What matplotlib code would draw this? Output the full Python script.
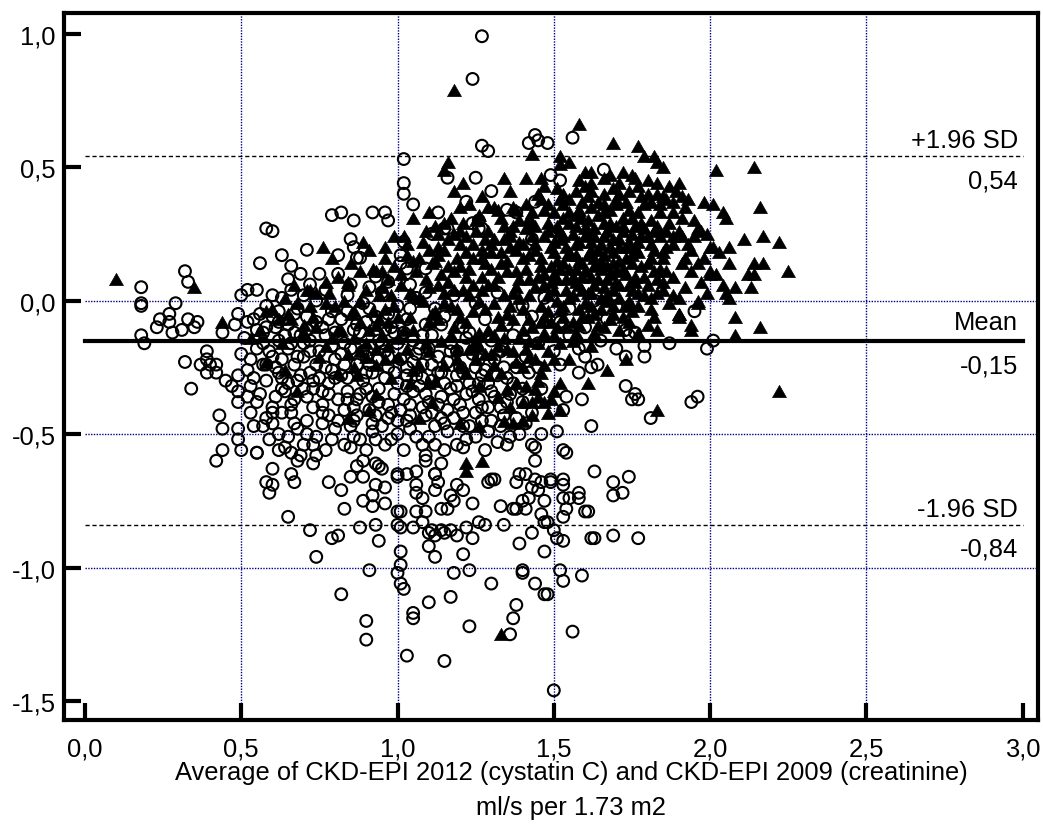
import matplotlib
matplotlib.use("Agg")
import matplotlib.pyplot as plt

plt.rcParams['font.family'] = ['Liberation Sans', 'DejaVu Sans']

# ---------------- data (average, difference) ----------------
circles_upper = [
    (1.27, 0.99), (1.24, 0.83), (1.27, 0.58), (1.29, 0.56), (1.42, 0.59), (1.44, 0.62), (1.45, 0.60),
    (1.48, 0.59), (1.56, 0.61), (1.02, 0.53), (1.02, 0.44), (1.02, 0.40), (1.05, 0.36), (1.16, 0.46),
    (1.25, 0.46), (1.30, 0.41), (1.13, 0.33), (1.22, 0.37), (1.15, 0.27), (1.16, 0.27), (1.11, 0.25),
    (1.26, 0.27), (1.24, 0.29), (1.66, 0.49), (1.49, 0.47), (1.52, 0.45), (1.44, 0.37), (1.35, 0.34),
    (1.38, 0.33), (1.43, 0.23), (1.49, 0.24), (0.79, 0.32), (0.82, 0.33), (0.86, 0.30), (0.92, 0.33),
    (0.96, 0.33), (0.97, 0.30), (0.58, 0.27), (0.60, 0.26), (0.85, 0.23), (0.86, 0.20), (0.87, 0.16),
    (0.71, 0.19), (0.63, 0.17), (0.66, 0.13), (0.56, 0.14), (0.81, 0.17), (1.01, 0.17), (1.01, 0.14),
    (0.32, 0.11), (0.33, 0.07), (0.65, 0.08), (0.72, 0.06), (0.81, 0.10), (0.52, 0.04), (0.55, 0.04),
    (0.50, 0.02), (1.26, 0.30), (1.27, 0.27), (1.02, 0.22), (1.03, 0.12), (1.09, 0.12), (0.88, 0.16),
]
circles_left = [
    (0.18, 0.05), (0.18, -0.01), (0.18, -0.02), (0.29, -0.01), (0.27, -0.05), (0.24, -0.07), (0.23, -0.10),
    (0.27, -0.08), (0.28, -0.12), (0.31, -0.11), (0.33, -0.07), (0.36, -0.08), (0.35, -0.10), (0.18, -0.13),
    (0.19, -0.16), (0.32, -0.23), (0.34, -0.33), (0.39, -0.19), (0.39, -0.22), (0.37, -0.24), (0.40, -0.24),
    (0.42, -0.24), (0.42, -0.27), (0.39, -0.27), (0.45, -0.30), (0.47, -0.32), (0.49, -0.28), (0.49, -0.34),
    (0.49, -0.38), (0.43, -0.43), (0.44, -0.48), (0.49, -0.48), (0.49, -0.52), (0.50, -0.56), (0.44, -0.56),
    (0.42, -0.60), (0.54, -0.47), (0.55, -0.57), (0.60, -0.42), (0.63, -0.42), (0.49, -0.05), (0.48, -0.09),
    (0.44, -0.12), (0.54, -0.07), (0.58, -0.10), (0.55, -0.11),
]
circles_core = [
    (0.58, -0.02), (0.63, 0.01), (0.68, -0.03), (0.74, 0.00), (0.79, -0.04), (0.84, 0.02), (0.89, -0.01),
    (0.95, 0.03), (1.00, -0.02), (1.06, 0.01), (1.12, -0.03), (1.18, 0.02), (1.25, -0.01), (1.32, 0.03),
    (1.40, -0.02), (1.47, 0.01), (1.55, -0.03), (1.63, 0.00), (1.70, -0.02),
    (0.52, -0.08), (0.60, -0.06), (0.65, -0.09), (0.71, -0.06), (0.76, -0.10), (0.82, -0.07), (0.87, -0.09),
    (0.93, -0.06), (0.98, -0.10), (1.03, -0.07), (1.09, -0.09), (1.15, -0.06), (1.21, -0.10), (1.28, -0.07),
    (1.35, -0.09), (1.43, -0.06), (1.52, -0.08), (1.60, -0.10), (1.67, -0.07),
    (0.51, -0.14), (0.57, -0.12), (0.62, -0.15), (0.67, -0.12), (0.72, -0.15), (0.77, -0.13), (0.83, -0.16),
    (0.88, -0.12), (0.94, -0.15), (0.99, -0.12), (1.05, -0.15), (1.11, -0.13), (1.17, -0.16), (1.23, -0.12),
    (1.30, -0.15), (1.37, -0.13), (1.45, -0.16), (1.55, -0.13), (1.65, -0.15), (1.74, -0.13),
    (0.50, -0.20), (0.55, -0.18), (0.60, -0.21), (0.65, -0.18), (0.70, -0.21), (0.75, -0.19), (0.80, -0.22),
    (0.85, -0.18), (0.90, -0.21), (0.96, -0.19), (1.01, -0.22), (1.07, -0.18), (1.13, -0.21), (1.19, -0.19),
    (1.26, -0.22), (1.33, -0.19), (1.41, -0.21), (1.50, -0.19), (1.60, -0.21), (1.70, -0.18),
    (0.52, -0.26), (0.57, -0.24), (0.62, -0.27), (0.67, -0.24), (0.72, -0.27), (0.77, -0.25), (0.82, -0.28),
    (0.87, -0.24), (0.92, -0.27), (0.97, -0.25), (1.03, -0.28), (1.08, -0.24), (1.14, -0.27), (1.20, -0.25),
    (1.27, -0.28), (1.34, -0.25), (1.42, -0.27), (1.52, -0.24),
    (0.53, -0.32), (0.58, -0.30), (0.63, -0.33), (0.68, -0.30), (0.73, -0.33), (0.78, -0.31), (0.84, -0.34),
    (0.89, -0.30), (0.94, -0.33), (1.00, -0.31), (1.05, -0.34), (1.11, -0.30), (1.17, -0.33), (1.23, -0.31),
    (1.30, -0.34), (1.37, -0.31), (1.46, -0.33),
    (0.55, -0.38), (0.61, -0.36), (0.66, -0.39), (0.71, -0.36), (0.76, -0.39), (0.81, -0.37), (0.86, -0.40),
    (0.92, -0.36), (0.97, -0.39), (1.02, -0.37), (1.08, -0.40), (1.14, -0.36), (1.20, -0.39), (1.26, -0.37),
    (1.33, -0.40), (1.40, -0.38),
    (0.58, -0.44), (0.66, -0.42), (0.71, -0.45), (0.76, -0.42), (0.81, -0.45), (0.87, -0.43), (0.92, -0.46),
    (0.98, -0.42), (1.03, -0.45), (1.09, -0.43), (1.15, -0.46), (1.21, -0.42), (1.27, -0.45), (1.34, -0.43),
    (1.41, -0.46),
    (0.62, -0.50), (0.68, -0.48), (0.74, -0.51), (0.80, -0.48), (0.86, -0.51), (0.92, -0.49), (0.98, -0.52),
    (1.04, -0.48), (1.10, -0.51), (1.16, -0.49), (1.22, -0.52), (1.29, -0.49), (1.36, -0.51),
    (0.64, -0.55), (0.70, -0.54), (0.77, -0.56), (0.83, -0.54), (0.90, -0.56), (0.96, -0.54), (1.02, -0.56),
    (1.08, -0.54), (1.15, -0.56), (1.21, -0.55), (1.28, -0.56), (1.35, -0.54), (1.44, -0.55),
    (0.61, -0.10), (0.66, -0.16), (0.71, -0.11), (0.74, -0.24), (0.79, -0.17), (0.84, -0.29), (0.86, -0.11),
    (0.91, -0.24), (0.95, -0.16), (0.99, -0.35), (1.02, -0.12), (1.06, -0.28), (1.10, -0.18), (1.13, -0.39),
    (1.16, -0.23), (1.19, -0.32), (1.22, -0.14), (1.25, -0.42), (1.28, -0.26), (1.31, -0.36), (0.64, -0.34),
    (0.69, -0.28), (0.73, -0.40), (0.78, -0.35), (0.83, -0.41), (0.88, -0.35), (0.93, -0.43), (0.96, -0.29),
    (1.01, -0.41), (1.05, -0.23), (1.09, -0.35), (1.12, -0.47), (1.18, -0.44), (1.24, -0.20), (1.29, -0.40),
    (1.35, -0.29), (1.38, -0.44), (0.58, -0.24), (0.63, -0.29), (0.68, -0.21), (0.56, -0.35), (0.60, -0.40),
    (0.53, -0.22), (0.57, -0.16), (0.61, -0.25), (0.64, -0.13), (0.67, -0.37), (0.70, -0.33), (0.75, -0.29),
    (0.76, -0.46), (0.79, -0.26), (0.82, -0.20), (0.85, -0.47), (0.87, -0.37), (0.90, -0.27), (0.91, -0.41),
    (0.95, -0.47), (0.97, -0.21), (1.00, -0.45), (1.03, -0.25), (1.04, -0.39), (1.07, -0.32), (1.11, -0.42),
    (1.13, -0.27), (1.16, -0.41), (1.19, -0.28), (1.22, -0.35), (1.23, -0.47), (1.26, -0.31), (1.30, -0.45),
    (1.32, -0.28), (1.36, -0.35), (1.39, -0.50), (0.70, -0.16), (0.74, -0.08), (0.80, -0.12), (0.90, -0.08),
    (0.96, -0.11), (1.08, -0.13), (1.14, -0.09), (0.62, -0.04), (0.56, -0.05), (0.67, -0.46), (0.71, -0.50),
    (0.88, -0.52), (1.06, -0.51), (1.19, -0.54),
    (0.54, -0.29), (0.59, -0.19), (0.63, -0.22), (0.65, -0.31), (0.69, -0.13), (0.72, -0.19), (0.73, -0.30),
    (0.76, -0.34), (0.78, -0.43), (0.80, -0.29), (0.83, -0.24), (0.84, -0.37), (0.86, -0.45), (0.89, -0.19),
    (0.90, -0.33), (0.94, -0.22), (0.94, -0.38), (0.97, -0.44), (0.99, -0.27), (1.00, -0.16), (1.03, -0.32),
    (1.04, -0.43), (1.06, -0.20), (1.08, -0.29), (1.10, -0.38), (1.11, -0.24), (1.14, -0.44), (1.15, -0.31),
    (1.17, -0.19), (1.18, -0.37), (1.21, -0.27), (1.21, -0.47), (1.24, -0.34), (1.25, -0.25), (1.27, -0.40),
    (1.29, -0.31), (1.31, -0.22), (1.33, -0.47), (1.35, -0.38), (1.38, -0.25), (1.40, -0.33), (1.43, -0.42),
    (1.45, -0.25), (0.59, -0.52), (0.65, -0.51), (0.73, -0.54), (0.79, -0.52), (0.85, -0.55), (0.93, -0.52),
    (1.00, -0.50), (1.12, -0.54), (1.25, -0.51), (1.32, -0.53), (0.53, -0.42), (0.57, -0.47), (0.52, -0.36),
    (0.60, -0.46), (0.60, 0.02), (0.66, 0.04), (0.70, 0.02), (0.77, 0.04), (0.85, 0.06), (0.91, 0.05),
    (0.97, 0.07), (1.04, 0.06), (1.09, 0.03), (0.75, 0.10), (0.69, 0.10), (0.93, 0.09), (0.62, -0.08),
    (0.67, -0.05), (0.78, -0.07), (0.84, -0.04), (0.91, -0.03), (0.97, -0.05), (1.04, -0.03),
]
circles_lower = [
    (0.55, -0.57), (0.62, -0.56), (0.66, -0.57), (0.69, -0.58), (0.74, -0.58), (0.73, -0.61), (0.60, -0.63),
    (0.58, -0.68), (0.60, -0.69), (0.59, -0.72), (0.66, -0.65), (0.67, -0.68), (0.68, -0.60), (0.78, -0.68),
    (0.82, -0.71), (0.85, -0.66), (0.87, -0.62), (0.89, -0.66), (0.89, -0.60), (0.93, -0.61), (0.94, -0.62),
    (0.95, -0.63), (0.93, -0.69), (0.96, -0.70), (0.92, -0.73), (0.89, -0.75), (0.92, -0.77), (0.96, -0.76),
    (0.83, -0.78), (0.65, -0.81), (0.72, -0.86), (0.79, -0.89), (0.81, -0.88), (0.88, -0.85), (0.93, -0.84),
    (0.94, -0.90), (0.74, -0.96), (0.91, -1.01), (0.82, -1.10), (0.90, -1.20), (0.90, -1.27), (1.03, -1.33),
    (1.15, -1.35), (1.50, -1.46), (1.00, -0.66), (1.00, -0.65), (1.03, -0.65), (1.06, -0.64), (1.09, -0.58),
    (1.09, -0.60), (1.14, -0.61), (1.12, -0.65), (1.13, -0.68), (1.12, -0.71), (1.06, -0.72), (1.08, -0.74),
    (1.01, -0.79), (1.06, -0.79), (1.09, -0.79), (1.01, -0.85), (1.05, -0.85), (1.08, -0.83), (1.01, -0.94),
    (1.01, -0.99), (1.00, -1.02), (1.01, -1.06), (1.02, -1.08), (1.05, -1.17), (1.05, -1.19), (1.10, -1.13),
    (1.17, -1.11), (1.10, -0.87), (1.10, -0.92), (1.12, -0.88), (1.15, -0.87), (1.19, -0.88), (1.11, -0.86),
    (1.14, -0.86), (1.17, -0.86), (1.12, -0.96), (1.21, -0.95), (1.18, -1.02), (1.23, -1.01), (1.22, -0.85),
    (1.24, -0.89), (1.26, -0.83), (1.28, -0.84), (1.34, -0.84), (1.30, -1.06), (1.23, -1.22), (1.38, -1.14),
    (1.37, -1.19), (1.36, -1.25), (1.17, -0.73), (1.16, -0.78), (1.18, -0.75), (1.14, -0.78), (1.24, -0.76),
    (1.21, -0.71), (1.19, -0.69), (1.12, -0.65), (1.06, -0.69), (1.29, -0.68), (1.31, -0.67), (1.33, -0.77),
    (1.38, -0.68), (1.37, -0.78), (1.38, -0.78), (1.41, -0.78), (1.40, -0.75), (1.42, -0.74), (1.41, -0.65),
    (1.44, -0.67), (1.46, -0.68), (1.43, -0.70), (1.45, -0.71), (1.47, -0.75), (1.44, -0.60), (1.54, -0.57),
    (1.49, -0.68), (1.53, -0.67), (1.53, -0.69), (1.53, -0.74), (1.55, -0.74), (1.58, -0.72), (1.58, -0.74),
    (1.46, -0.80), (1.47, -0.83), (1.48, -0.83), (1.54, -0.78), (1.53, -0.81), (1.50, -0.86), (1.51, -0.89),
    (1.53, -0.90), (1.47, -0.94), (1.43, -0.87), (1.39, -0.91), (1.40, -1.01), (1.40, -1.02), (1.44, -1.06),
    (1.47, -1.10), (1.48, -1.10), (1.52, -1.01), (1.53, -1.05), (1.59, -1.03), (1.56, -1.24), (1.63, -0.64),
    (1.60, -0.79), (1.61, -0.79), (1.62, -0.89), (1.63, -0.89), (1.69, -0.68), (1.69, -0.73), (1.72, -0.72),
    (1.74, -0.66), (1.69, -0.88), (1.77, -0.89), (1.00, -0.84), (1.00, -0.79),
]
circles_right = [
    (2.01, -0.15), (1.99, -0.18), (1.87, -0.16), (1.79, -0.17), (1.79, -0.21), (1.73, -0.21), (1.73, -0.32),
    (1.75, -0.37), (1.77, -0.37), (1.76, -0.35), (1.81, -0.44), (1.94, -0.38), (1.96, -0.36), (1.95, -0.04),
    (1.64, -0.24), (1.58, -0.27), (1.62, -0.25), (1.54, -0.36), (1.59, -0.37), (1.62, -0.47), (1.53, -0.41),
    (1.53, -0.56), (1.43, -0.54), (1.73, -0.11), (1.76, -0.12), (1.60, -0.17), (1.58, -0.18), (1.51, -0.49),
    (1.46, -0.50), (1.30, -0.67), (1.39, -0.65), (1.49, -0.67),
]

triangles_sparse = [
    (0.10, 0.08), (0.35, 0.05), (0.44, -0.08), (0.53, -0.14), (0.60, -0.03), (0.62, -0.07), (0.66, -0.07),
    (0.67, 0.06), (0.72, 0.04), (0.77, 0.07), (0.79, 0.16), (0.76, 0.20), (0.89, 0.22), (0.96, 0.20),
    (1.02, 0.24), (0.88, 0.11), (0.92, 0.12), (0.95, 0.11), (0.97, 0.08), (0.84, 0.07), (0.58, -0.23),
    (0.64, -0.26), (0.68, -0.34), (0.74, -0.10), (0.81, -0.27), (0.84, -0.44), (0.87, -0.28), (0.91, -0.41),
    (0.93, -0.35), (0.98, -0.29), (0.93, -0.24), (0.81, -0.11), (0.86, -0.04), (0.92, -0.04), (0.88, -0.08),
    (0.94, -0.07), (0.97, -0.08), (0.91, -0.11), (0.95, -0.13), (0.93, -0.18), (0.97, -0.17), (0.90, -0.21),
    (1.18, 0.79), (1.58, 0.66), (1.69, 0.59), (1.77, 0.58), (1.43, 0.55), (1.16, 0.52), (1.15, 0.49),
    (1.52, 0.54), (1.55, 0.52), (1.52, 0.51), (1.79, 0.54), (1.82, 0.54), (1.83, 0.52), (1.85, 0.50),
    (2.02, 0.49), (2.14, 0.50), (1.60, 0.48), (1.62, 0.48), (1.72, 0.48), (1.75, 0.47), (1.41, 0.46),
    (1.46, 0.46), (1.07, 0.16), (1.10, 0.19), (1.13, 0.17), (1.11, 0.14), (1.20, 0.35), (1.26, 0.32),
    (1.20, 0.26), (1.22, 0.24), (1.32, 0.34), (1.37, 0.35), (1.38, 0.34), (1.31, 0.23), (1.36, 0.24),
    (1.41, 0.27), (1.43, 0.29), (1.05, 0.02),
]
triangles_right = [
    (1.97, 0.26), (1.98, 0.37), (2.01, 0.36), (2.16, 0.35), (2.04, 0.33), (2.05, 0.31), (2.11, 0.23),
    (2.17, 0.24), (2.22, 0.22), (2.06, 0.20), (2.01, 0.20), (2.06, 0.14), (2.14, 0.14), (2.17, 0.14),
    (2.25, 0.11), (2.12, 0.10), (2.14, 0.10), (2.08, 0.05), (2.13, 0.05), (2.04, 0.06), (2.00, 0.10),
    (2.02, 0.10), (2.06, 0.01), (2.08, -0.06), (2.16, -0.10), (2.08, -0.13), (2.22, -0.34), (1.90, 0.44),
    (1.84, 0.36), (1.85, 0.39), (1.88, 0.37), (1.91, 0.39), (1.93, 0.38), (1.96, 0.27), (2.00, 0.20),
    (1.91, 0.24), (1.95, 0.24), (1.88, 0.24), (1.96, 0.14), (2.00, 0.11), (2.05, 0.03), (1.90, 0.01),
    (1.96, -0.01), (1.90, -0.05), (1.83, -0.11), (1.90, -0.06), (1.94, -0.09), (1.94, -0.11), (1.73, -0.22),
    (1.67, -0.26), (1.61, -0.31), (1.83, -0.41),
]
triangles_lower = [
    (1.22, -0.61), (1.22, -0.64), (1.27, -0.60), (1.33, -1.25), (1.07, -0.44), (1.11, -0.38), (1.04, -0.31),
    (1.10, -0.31), (1.43, -0.38), (1.45, -0.36), (1.47, -0.38), (1.49, -0.37), (1.38, -0.31), (1.41, -0.32),
    (1.29, -0.28), (1.26, -0.32), (1.31, -0.24), (1.20, -0.24), (1.22, -0.27), (1.25, -0.22), (1.24, -0.17),
    (1.37, -0.46), (1.40, -0.45), (1.26, -0.47), (1.20, -0.46), (1.52, -0.41), (1.52, -0.31),
    (1.32, -0.36), (1.36, -0.40), (1.43, -0.43), (1.48, -0.42), (1.50, -0.34), (1.44, -0.33), (1.40, -0.38),
    (1.34, -0.45),
]
triangles_core = [
    (1.21, 0.44), (1.34, 0.46), (1.47, 0.43), (1.58, 0.45), (1.66, 0.46), (1.71, 0.44), (1.80, 0.45), (1.87, 0.43),
    (1.18, 0.41), (1.27, 0.39), (1.36, 0.41), (1.45, 0.40), (1.52, 0.38), (1.57, 0.41), (1.61, 0.39), (1.66, 0.40),
    (1.70, 0.38), (1.74, 0.41), (1.78, 0.39), (1.83, 0.40), (1.89, 0.41),
    (1.10, 0.33), (1.23, 0.36), (1.31, 0.35), (1.41, 0.36), (1.47, 0.34), (1.53, 0.36), (1.58, 0.34), (1.62, 0.35),
    (1.66, 0.33), (1.70, 0.36), (1.74, 0.34), (1.79, 0.36), (1.84, 0.33), (1.92, 0.35),
    (1.05, 0.31), (1.15, 0.29), (1.25, 0.30), (1.34, 0.28), (1.42, 0.31), (1.48, 0.29), (1.53, 0.31), (1.57, 0.28),
    (1.61, 0.30), (1.64, 0.32), (1.68, 0.29), (1.72, 0.31), (1.76, 0.28), (1.81, 0.30), (1.87, 0.29), (1.95, 0.30),
    (0.99, 0.24), (1.09, 0.26), (1.18, 0.25), (1.28, 0.23), (1.36, 0.26), (1.43, 0.24), (1.48, 0.26), (1.52, 0.23),
    (1.56, 0.25), (1.60, 0.27), (1.63, 0.24), (1.67, 0.26), (1.71, 0.23), (1.75, 0.25), (1.79, 0.27), (1.84, 0.24),
    (1.90, 0.26), (1.99, 0.25),
    (0.91, 0.19), (1.03, 0.21), (1.13, 0.20), (1.22, 0.18), (1.30, 0.21), (1.38, 0.19), (1.44, 0.21), (1.50, 0.18),
    (1.54, 0.20), (1.58, 0.22), (1.62, 0.19), (1.65, 0.21), (1.69, 0.18), (1.73, 0.20), (1.77, 0.22), (1.82, 0.19),
    (1.88, 0.21), (1.94, 0.19), (2.03, 0.18),
    (0.85, 0.14), (0.96, 0.16), (1.05, 0.15), (1.16, 0.13), (1.24, 0.16), (1.33, 0.14), (1.40, 0.16), (1.46, 0.13),
    (1.51, 0.15), (1.55, 0.17), (1.59, 0.14), (1.63, 0.16), (1.67, 0.13), (1.71, 0.15), (1.75, 0.17), (1.80, 0.14),
    (1.85, 0.16), (1.91, 0.14), (1.98, 0.16),
    (0.81, 0.09), (0.93, 0.11), (1.01, 0.10), (1.09, 0.08), (1.18, 0.11), (1.27, 0.09), (1.35, 0.11), (1.42, 0.08),
    (1.47, 0.10), (1.52, 0.12), (1.56, 0.09), (1.60, 0.11), (1.64, 0.08), (1.68, 0.10), (1.72, 0.12), (1.76, 0.09),
    (1.82, 0.11), (1.88, 0.09), (1.94, 0.11),
    (0.71, 0.04), (0.84, 0.06), (0.95, 0.05), (1.04, 0.03), (1.13, 0.06), (1.21, 0.04), (1.29, 0.06), (1.37, 0.03),
    (1.44, 0.05), (1.49, 0.07), (1.54, 0.04), (1.58, 0.06), (1.62, 0.03), (1.66, 0.05), (1.70, 0.07), (1.75, 0.04),
    (1.80, 0.06), (1.85, 0.04), (1.92, 0.05), (1.99, 0.03),
    (0.64, 0.01), (0.77, -0.01), (0.88, 0.00), (0.99, -0.02), (1.07, 0.01), (1.15, -0.01), (1.23, 0.02), (1.31, -0.01),
    (1.39, 0.01), (1.46, -0.02), (1.51, 0.00), (1.56, 0.02), (1.60, -0.01), (1.65, 0.01), (1.69, -0.02), (1.74, 0.00),
    (1.79, 0.02), (1.87, -0.01), (1.96, 0.00),
    (0.58, -0.04), (0.73, -0.06), (0.85, -0.05), (0.96, -0.03), (1.04, -0.06), (1.12, -0.04), (1.20, -0.06),
    (1.28, -0.03), (1.35, -0.05), (1.42, -0.07), (1.48, -0.04), (1.53, -0.06), (1.58, -0.03), (1.63, -0.05),
    (1.68, -0.07), (1.75, -0.04), (1.82, -0.06), (1.90, -0.05),
    (0.56, -0.11), (0.70, -0.09), (0.82, -0.11), (0.93, -0.09), (1.02, -0.11), (1.10, -0.08), (1.18, -0.10),
    (1.26, -0.12), (1.33, -0.09), (1.40, -0.11), (1.46, -0.08), (1.51, -0.10), (1.57, -0.12), (1.64, -0.09),
    (1.71, -0.11), (1.80, -0.09),
    (0.63, -0.16), (0.79, -0.14), (0.90, -0.16), (1.00, -0.14), (1.09, -0.16), (1.17, -0.13), (1.25, -0.15),
    (1.32, -0.17), (1.39, -0.14), (1.45, -0.16), (1.50, -0.13), (1.56, -0.15), (1.62, -0.17),
    (0.75, -0.21), (0.88, -0.19), (1.00, -0.21), (1.10, -0.19), (1.19, -0.22), (1.28, -0.20), (1.35, -0.18),
    (1.42, -0.21), (1.48, -0.19), (1.55, -0.22),
    (0.86, -0.25), (1.05, -0.26), (1.15, -0.24), (1.33, -0.27), (1.40, -0.25), (1.46, -0.27), (1.12, -0.30),
    (1.35, -0.33), (1.45, -0.30),
    (1.50, 0.33), (1.55, 0.29), (1.59, 0.37), (1.63, 0.27), (1.68, 0.34), (1.72, 0.26), (1.77, 0.33), (1.50, 0.22),
    (1.55, 0.18), (1.60, 0.24), (1.64, 0.19), (1.69, 0.23), (1.73, 0.16), (1.78, 0.24), (1.49, 0.13), (1.54, 0.08),
    (1.58, 0.15), (1.62, 0.09), (1.66, 0.17), (1.70, 0.11), (1.74, 0.06), (1.78, 0.13), (1.48, 0.02), (1.53, -0.02),
    (1.57, 0.07), (1.61, 0.03), (1.65, -0.03), (1.69, 0.04), (1.73, -0.02), (1.77, 0.03), (1.56, -0.08), (1.61, -0.06),
    (1.66, -0.10), (1.52, 0.26), (1.57, 0.21), (1.66, 0.29), (1.71, 0.20), (1.81, 0.21), (1.83, 0.08), (1.86, 0.26),
    (1.44, 0.19), (1.41, 0.12), (1.38, 0.05), (1.36, 0.20), (1.32, 0.09), (1.28, 0.14), (1.26, 0.00), (1.22, 0.09),
    (1.18, 0.04), (1.14, 0.10), (1.40, -0.03), (1.44, 0.28),
    (1.46, 0.38), (1.51, 0.42), (1.55, 0.38), (1.60, 0.43), (1.64, 0.37), (1.69, 0.42), (1.73, 0.37), (1.77, 0.43),
    (1.81, 0.37), (1.86, 0.38), (1.47, 0.24), (1.51, 0.28), (1.55, 0.33), (1.59, 0.31), (1.62, 0.22), (1.66, 0.24),
    (1.70, 0.28), (1.74, 0.22), (1.78, 0.29), (1.82, 0.26), (1.86, 0.20), (1.46, 0.16), (1.50, 0.10), (1.53, 0.14),
    (1.57, 0.12), (1.61, 0.17), (1.65, 0.12), (1.69, 0.14), (1.73, 0.10), (1.77, 0.18), (1.81, 0.16), (1.84, 0.12),
    (1.45, 0.09), (1.50, 0.04), (1.55, 0.01), (1.59, 0.04), (1.63, 0.06), (1.67, 0.02), (1.71, 0.01), (1.76, 0.07),
    (1.81, 0.01), (1.85, 0.07), (1.42, 0.02), (1.47, -0.06), (1.52, -0.03), (1.58, -0.09), (1.63, -0.12),
    (1.69, -0.05), (1.74, -0.08), (1.77, -0.12), (1.20, 0.21), (1.25, 0.26), (1.30, 0.18), (1.34, 0.23),
    (1.39, 0.22), (1.27, 0.19), (1.16, 0.23), (1.12, 0.28), (1.08, 0.22), (1.33, 0.31), (1.39, 0.30), (1.29, 0.35),
    (1.16, 0.07), (1.20, 0.13), (1.24, 0.06), (1.30, 0.12), (1.34, 0.02), (1.39, 0.08), (1.10, 0.05), (1.06, 0.11),
    (1.13, -0.07), (1.17, -0.02), (1.22, -0.08), (1.29, -0.11), (1.34, -0.14), (1.37, -0.07), (1.42, -0.15),
    (1.47, -0.12), (1.44, -0.22), (1.38, -0.23), (1.30, -0.20), (1.23, -0.18), (0.68, -0.01), (0.74, 0.03),
    (0.80, -0.02), (0.90, 0.04), (0.98, 0.02), (0.70, -0.12), (0.77, -0.17), (0.86, -0.14), (0.96, -0.22),
    (1.03, -0.18), (1.07, -0.24), (0.84, -0.20),
    (1.48, 0.36), (1.53, 0.40), (1.57, 0.32), (1.62, 0.41), (1.66, 0.36), (1.71, 0.40), (1.75, 0.31), (1.80, 0.40),
    (1.83, 0.28), (1.88, 0.33), (1.49, 0.20), (1.53, 0.24), (1.57, 0.17), (1.61, 0.26), (1.65, 0.15), (1.68, 0.20),
    (1.72, 0.28), (1.76, 0.20), (1.80, 0.24), (1.85, 0.18), (1.47, 0.06), (1.51, 0.08), (1.55, 0.12), (1.59, 0.09),
    (1.63, 0.13), (1.67, 0.08), (1.71, 0.06), (1.75, 0.14), (1.79, 0.09), (1.83, 0.03), (1.49, -0.08), (1.54, -0.10),
    (1.59, -0.06), (1.62, -0.02), (1.67, 0.00), (1.72, -0.06), (1.77, -0.02), (1.81, -0.03), (1.13, 0.25),
    (1.17, 0.31), (1.21, 0.29), (1.24, 0.21), (1.29, 0.26), (1.33, 0.18), (1.37, 0.28), (1.40, 0.21), (1.43, 0.33),
    (1.12, 0.15), (1.15, 0.19), (1.19, 0.16), (1.23, 0.12), (1.27, 0.16), (1.31, 0.06), (1.35, 0.15), (1.38, 0.11),
    (1.42, 0.17), (1.08, 0.00), (1.11, -0.05), (1.15, 0.03), (1.19, -0.03), (1.24, -0.04), (1.27, 0.04),
    (1.32, -0.06), (1.36, -0.02), (1.43, -0.10), (1.14, -0.15), (1.19, -0.18), (1.26, -0.17), (1.31, -0.13),
    (1.37, -0.19), (1.41, -0.18), (1.47, -0.24), (1.50, -0.22), (1.52, -0.16), (0.99, 0.13), (1.03, 0.17),
    (0.94, 0.02), (1.01, 0.06), (0.83, 0.00), (0.72, -0.02), (0.65, -0.05), (0.78, 0.03), (1.00, -0.06),
    (1.05, -0.11), (1.62, 0.44), (1.68, 0.47), (1.76, 0.46), (1.83, 0.44), (1.91, 0.31), (1.93, 0.21),
    (1.97, 0.07), (1.92, 0.16), (1.86, 0.11), (1.88, 0.02),
]

mean_diff = -0.15
upper_loa = 0.54
lower_loa = -0.84

x_ticks = [0.0, 0.5, 1.0, 1.5, 2.0, 2.5, 3.0]
x_tick_labels = ['0,0', '0,5', '1,0', '1,5', '2,0', '2,5', '3,0']
y_ticks = [-1.5, -1.0, -0.5, 0.0, 0.5, 1.0]
y_tick_labels = ['-1,5', '-1,0', '-0,5', '0,0', '0,5', '1,0']

xlabel_line1 = "Average of CKD-EPI 2012 (cystatin C) and CKD-EPI 2009 (creatinine)"
xlabel_line2 = "ml/s per 1.73 m2"

# ---------------- figure ----------------
W, H = 1043, 829
fig = plt.figure(figsize=(W / 100, H / 100), dpi=100)
ax = fig.add_axes([64 / W, 1 - 721 / H, (1038 - 64) / W, (721 - 14) / H])
ax.set_xlim(-0.067, 3.049)
ax.set_ylim(-1.571, 1.077)

grid_col = '#000080'
for gx in [0.5, 1.0, 1.5, 2.0, 2.5]:
    ax.axvline(gx, color=grid_col, lw=1.0, ls=(0, (1, 1)), zorder=0)
for gy in [0.0, -0.5, -1.0]:
    ax.plot([0.0, 3.049], [gy, gy], color=grid_col, lw=1.0, ls=(0, (1, 1)), zorder=0)

circles = circles_upper + circles_left + circles_core + circles_lower + circles_right
triangles = triangles_sparse + triangles_right + triangles_lower + triangles_core

cx = [p[0] for p in circles]
cy = [p[1] for p in circles]
tx = [p[0] for p in triangles]
ty = [p[1] for p in triangles]

tri_marker = [(-1.0, -0.875), (1.0, -0.875), (0.0, 0.875), (-1.0, -0.875)]

ax.scatter(cx, cy, s=72, marker='o', facecolors='none', edgecolors='black', linewidths=1.5, zorder=3)
ax.scatter(tx, ty, s=100, marker=tri_marker, facecolors='black', edgecolors='black', linewidths=0.5, zorder=4)

# limits of agreement and mean
ax.plot([0.0, 3.0], [upper_loa, upper_loa], color='black', lw=1.0, ls=(0, (3, 2)), zorder=2)
ax.plot([0.0, 3.0], [lower_loa, lower_loa], color='black', lw=1.0, ls=(0, (3, 2)), zorder=2)
ax.plot([0.0, 3.0], [mean_diff, mean_diff], color='black', lw=3.0, zorder=5)

lab_x = 2.985
fs = 18.4
def lab(y, top, bottom, dy_top, dy_bot):
    ax.annotate(top, xy=(lab_x, y), xytext=(0, dy_top), textcoords='offset pixels',
                ha='right', va='center', fontsize=fs)
    ax.annotate(bottom, xy=(lab_x, y), xytext=(0, dy_bot), textcoords='offset pixels',
                ha='right', va='center', fontsize=fs)

lab(upper_loa, '+1.96 SD', '0,54', 16, -24)
lab(mean_diff, 'Mean', '-0,15', 19, -25)
lab(lower_loa, '-1.96 SD', '-0,84', 16, -24)

for s in ax.spines.values():
    s.set_linewidth(3)
    s.set_color('black')

ax.set_xticks(x_ticks)
ax.set_xticklabels(x_tick_labels)
ax.set_yticks(y_ticks)
ax.set_yticklabels(y_tick_labels)
ax.tick_params(axis='both', direction='in', length=12, width=3, labelsize=fs, colors='black')
ax.tick_params(axis='x', pad=12)
ax.tick_params(axis='y', pad=6)

fig.text(571 / W, 1 - 773 / H, xlabel_line1, ha='center', va='center', fontsize=fs)
fig.text(571 / W, 1 - 808 / H, xlabel_line2, ha='center', va='center', fontsize=fs)

fig.savefig('out.png', dpi=100)
